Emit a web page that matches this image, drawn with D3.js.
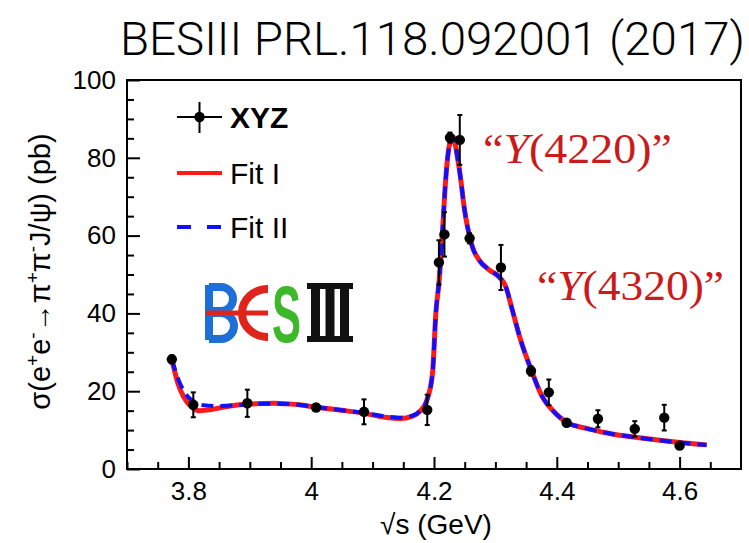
<!DOCTYPE html>
<html>
<head>
<meta charset="utf-8">
<script src="https://cdn.jsdelivr.net/npm/d3@7"></script>
<style>
  html, body { margin: 0; padding: 0; background: #fff; }
  svg { display: block; }
</style>
</head>
<body>
<svg id="chart" width="749" height="543"></svg>
<script>
// ---------------- data ----------------
const energy = [3.773, 3.808, 3.896, 4.008, 4.086, 4.189, 4.208, 4.217, 4.226, 4.242, 4.258, 4.309, 4.358, 4.387, 4.416, 4.467, 4.527, 4.575, 4.600];
const xsec   = [28.2, 16.5, 16.9, 15.8, 14.7, 15.2, 53.1, 60.3, 85.2, 84.6, 59.3, 51.8, 25.2, 19.7, 11.9, 12.9, 10.3, 13.2, 6.0];
const xsecErr = [1.0, 3.2, 3.5, 0.9, 3.2, 3.9, 5.7, 5.7, 1.3, 6.4, 1.3, 5.8, 1.2, 3.3, 0.9, 2.2, 2.0, 3.3, 0.6];

const fit1E = [3.773, 3.783, 3.792, 3.805, 3.818, 3.835, 3.86, 3.9, 3.94, 3.98, 4.008, 4.05, 4.087, 4.12, 4.145, 4.165, 4.178, 4.188, 4.1976, 4.203, 4.2085, 4.214, 4.219, 4.2247, 4.231, 4.238, 4.2437, 4.249, 4.2545, 4.2626, 4.2735, 4.2897, 4.306, 4.3168, 4.3275, 4.341, 4.359, 4.3763, 4.3925, 4.417, 4.4467, 4.49, 4.528, 4.571, 4.6, 4.644];
const fit1Y = [28.2, 22.0, 18.6, 16.0, 15.0, 15.2, 16.0, 16.7, 16.9, 16.5, 15.9, 15.1, 14.3, 13.3, 13.0, 13.6, 15.0, 17.5, 24.6, 40.0, 48.6, 61.4, 74.3, 82.9, 85.4, 80.3, 74.3, 67.4, 62.3, 57.1, 53.7, 51.2, 49.4, 46.9, 40.9, 33.2, 25.2, 18.6, 15.2, 11.9, 10.5, 9.0, 8.15, 7.3, 6.8, 6.2];

const fit2E = [3.773, 3.785, 3.797, 3.81, 3.825, 3.85, 3.88, 3.9, 3.94, 3.98, 4.008, 4.05, 4.087, 4.12, 4.145, 4.165, 4.178, 4.188, 4.1976, 4.203, 4.2085, 4.214, 4.219, 4.2247, 4.231, 4.238, 4.2437, 4.249, 4.2545, 4.2626, 4.2735, 4.2897, 4.306, 4.3168, 4.3275, 4.341, 4.359, 4.3763, 4.3925, 4.417, 4.4467, 4.49, 4.528, 4.571, 4.6, 4.644];
const fit2Y = [28.2, 22.5, 19.0, 17.2, 16.4, 16.2, 16.4, 16.7, 16.8, 16.5, 15.9, 15.1, 14.4, 13.5, 13.2, 13.7, 15.0, 17.5, 24.6, 40.0, 48.6, 61.4, 74.3, 82.9, 85.4, 80.3, 74.3, 67.4, 62.3, 57.1, 53.7, 51.2, 49.4, 46.9, 40.9, 33.2, 25.2, 18.6, 15.2, 11.9, 10.5, 9.0, 8.15, 7.3, 6.8, 6.2];

const xMajorTicks = [3.8, 4.0, 4.2, 4.4, 4.6];
const xMinorTicks = [3.7, 3.75, 3.85, 3.9, 3.95, 4.05, 4.1, 4.15, 4.25, 4.3, 4.35, 4.45, 4.5, 4.55, 4.65];
const yMajorTicks = [0, 20, 40, 60, 80, 100];
const yMinorTicks = [5, 10, 15, 25, 30, 35, 45, 50, 55, 65, 70, 75, 85, 90, 95];

const legendLabels = ["XYZ", "Fit I", "Fit II"];
const titleText = "BESIII PRL.118.092001 (2017)";

// ---------------- layout ----------------
const svg = d3.select("#chart");
const L = 127, R = 741, T = 80, B = 469;
const x = d3.scaleLinear().domain([3.7, 4.7]).range([L, R]);
const y = d3.scaleLinear().domain([0, 100]).range([B, T]);
const RED = "#ff1a1a", BLUE = "#1010ff";
const SANS = "'Liberation Sans', Arial, sans-serif";

// title
svg.append("text")
  .attr("x", 120).attr("y", 55)
  .attr("font-family", "Roboto, 'Liberation Sans', sans-serif")
  .attr("font-weight", 300)
  .attr("font-size", 46)
  .attr("textLength", 625).attr("lengthAdjust", "spacingAndGlyphs")
  .attr("fill", "#000")
  .text(titleText);

// axes
const fmt = d3.format(".1~f");
const gx = svg.append("g").attr("transform", `translate(0,${B})`);
gx.call(d3.axisBottom(x).tickValues(xMajorTicks).tickSize(-12).tickPadding(13).tickFormat(fmt));
const gxm = svg.append("g").attr("transform", `translate(0,${B})`);
gxm.call(d3.axisBottom(x).tickValues(xMinorTicks).tickSize(-7).tickFormat(""));
const gy = svg.append("g").attr("transform", `translate(${L},0)`);
gy.call(d3.axisLeft(y).tickValues(yMajorTicks).tickSize(-13).tickPadding(11).tickFormat(d3.format("d")));
const gym = svg.append("g").attr("transform", `translate(${L},0)`);
gym.call(d3.axisLeft(y).tickValues(yMinorTicks).tickSize(-7).tickFormat(""));
svg.selectAll(".domain").remove();
svg.selectAll(".tick line").attr("stroke", "#000").attr("stroke-width", 2);
svg.selectAll(".tick text")
  .attr("font-family", SANS)
  .attr("font-size", 26).attr("fill", "#000");

// frame
svg.append("rect").attr("x", L).attr("y", T).attr("width", R - L).attr("height", B - T)
  .attr("fill", "none").attr("stroke", "#000").attr("stroke-width", 2);

// axis titles
svg.append("text")
  .attr("x", 436).attr("y", 534)
  .attr("text-anchor", "middle")
  .attr("font-family", SANS)
  .attr("font-size", 28).attr("fill", "#000")
  .text("\u221As (GeV)");

const yt = svg.append("text")
  .attr("transform", `translate(50,${(T + B) / 2 - 3}) rotate(-90)`)
  .attr("text-anchor", "middle")
  .attr("font-family", SANS)
  .attr("font-size", 29).attr("fill", "#000");
const parts = [["σ(e", 0], ["+", 1], ["e", 0], ["-", 1], ["→π", 0], ["+", 1], ["π", 0], ["-", 1], ["J/ψ) (pb)", 0]];
let prevSup = false;
parts.forEach(([t, sup]) => {
  const ts = yt.append("tspan").text(t);
  if (sup) { ts.attr("font-size", 19).attr("dy", prevSup ? 0 : -11); prevSup = true; }
  else { ts.attr("dy", prevSup ? 11 : 0); prevSup = false; }
});

// clip
svg.append("clipPath").attr("id", "plotclip")
  .append("rect").attr("x", L).attr("y", T).attr("width", R - L).attr("height", B - T);

const plot = svg.append("g").attr("clip-path", "url(#plotclip)");

const line = d3.line().x(d => x(d[0])).y(d => y(d[1])).curve(d3.curveMonotoneX);
const fit1 = fit1E.map((e, i) => [e, fit1Y[i]]);
const fit2 = fit2E.map((e, i) => [e, fit2Y[i]]);

plot.append("path").attr("d", line(fit1))
  .attr("fill", "none").attr("stroke", RED).attr("stroke-width", 5).attr("stroke-linejoin", "round");
plot.append("path").attr("d", line(fit2))
  .attr("fill", "none").attr("stroke", BLUE).attr("stroke-width", 4).attr("stroke-dasharray", "12,7");

// data points
const pts = energy.map((e, i) => ({ e, v: xsec[i], err: xsecErr[i] }));
const pg = plot.append("g");
pg.selectAll("line.err").data(pts).join("line").attr("class", "err")
  .attr("x1", d => x(d.e)).attr("x2", d => x(d.e))
  .attr("y1", d => y(d.v + d.err)).attr("y2", d => y(d.v - d.err))
  .attr("stroke", "#000").attr("stroke-width", 2);
pg.selectAll("line.capT").data(pts).join("line").attr("class", "capT")
  .attr("x1", d => x(d.e) - 2.5).attr("x2", d => x(d.e) + 2.5)
  .attr("y1", d => y(d.v + d.err)).attr("y2", d => y(d.v + d.err))
  .attr("stroke", "#000").attr("stroke-width", 2);
pg.selectAll("line.capB").data(pts).join("line").attr("class", "capB")
  .attr("x1", d => x(d.e) - 2.5).attr("x2", d => x(d.e) + 2.5)
  .attr("y1", d => y(d.v - d.err)).attr("y2", d => y(d.v - d.err))
  .attr("stroke", "#000").attr("stroke-width", 2);
pg.selectAll("circle").data(pts).join("circle")
  .attr("cx", d => x(d.e)).attr("cy", d => y(d.v)).attr("r", 5.2).attr("fill", "#000");

// legend
const lg = svg.append("g");
const legX1 = 177, legX2 = 222, legRows = [117, 173, 227];
lg.append("line").attr("x1", legX1).attr("x2", legX2).attr("y1", legRows[0]).attr("y2", legRows[0]).attr("stroke", "#000").attr("stroke-width", 2);
lg.append("line").attr("x1", (legX1 + legX2) / 2).attr("x2", (legX1 + legX2) / 2).attr("y1", legRows[0] - 15).attr("y2", legRows[0] + 16).attr("stroke", "#000").attr("stroke-width", 2);
lg.append("circle").attr("cx", (legX1 + legX2) / 2).attr("cy", legRows[0]).attr("r", 5.2).attr("fill", "#000");
lg.append("line").attr("x1", legX1).attr("x2", legX2).attr("y1", legRows[1]).attr("y2", legRows[1]).attr("stroke", RED).attr("stroke-width", 4);
lg.append("line").attr("x1", legX1).attr("x2", legX2 + 1).attr("y1", legRows[2]).attr("y2", legRows[2]).attr("stroke", BLUE).attr("stroke-width", 4).attr("stroke-dasharray", "14,16");
legendLabels.forEach((t, i) => {
  lg.append("text").attr("x", 230).attr("y", legRows[i] + 11)
    .attr("font-family", SANS)
    .attr("font-size", 30).attr("font-weight", i === 0 ? 700 : 400)
    .attr("fill", "#000").text(t);
});

// annotations
function annot(xp, yp, num, len) {
  const t = svg.append("text").attr("x", xp).attr("y", yp)
    .attr("font-family", "'Liberation Serif', 'DejaVu Serif', serif")
    .attr("font-size", 42).attr("fill", "#cc1a1a")
    .attr("textLength", len).attr("lengthAdjust", "spacingAndGlyphs");
  t.append("tspan").text("\u201C");
  t.append("tspan").attr("font-style", "italic").text("Y");
  t.append("tspan").text("(" + num + ")\u201D");
}
annot(483, 163, "4220", 189);
annot(537, 300, "4320", 187);

// BESIII logo
const logo = svg.append("g");
logo.append("path")
  .attr("d", "M209 285 V340 M209 287 H221 A12 12 0 0 1 221 311 H209 M209 313 H221 A13 13 0 0 1 221 339 H209")
  .attr("fill", "none").attr("stroke", "#1f6fd8").attr("stroke-width", 8);
logo.append("path")
  .attr("d", "M268 289 A26 24 0 0 0 268 337")
  .attr("fill", "none").attr("stroke", "#e0241c").attr("stroke-width", 8);
logo.append("line").attr("x1", 206).attr("x2", 268).attr("y1", 313).attr("y2", 313)
  .attr("stroke", "#e0241c").attr("stroke-width", 5);
logo.append("text").attr("x", 272).attr("y", 342)
  .attr("font-family", SANS).attr("font-weight", 700)
  .attr("font-size", 80).attr("textLength", 29).attr("lengthAdjust", "spacingAndGlyphs")
  .attr("fill", "#3cb82a").text("S");
logo.append("rect").attr("x", 307).attr("y", 283).attr("width", 46).attr("height", 6).attr("fill", "#111");
logo.append("rect").attr("x", 307).attr("y", 336).attr("width", 46).attr("height", 6).attr("fill", "#111");
[311, 325.5, 340].forEach(bx => logo.append("rect").attr("x", bx).attr("y", 288).attr("width", 9).attr("height", 49).attr("fill", "#111"));
</script>
</body>
</html>
